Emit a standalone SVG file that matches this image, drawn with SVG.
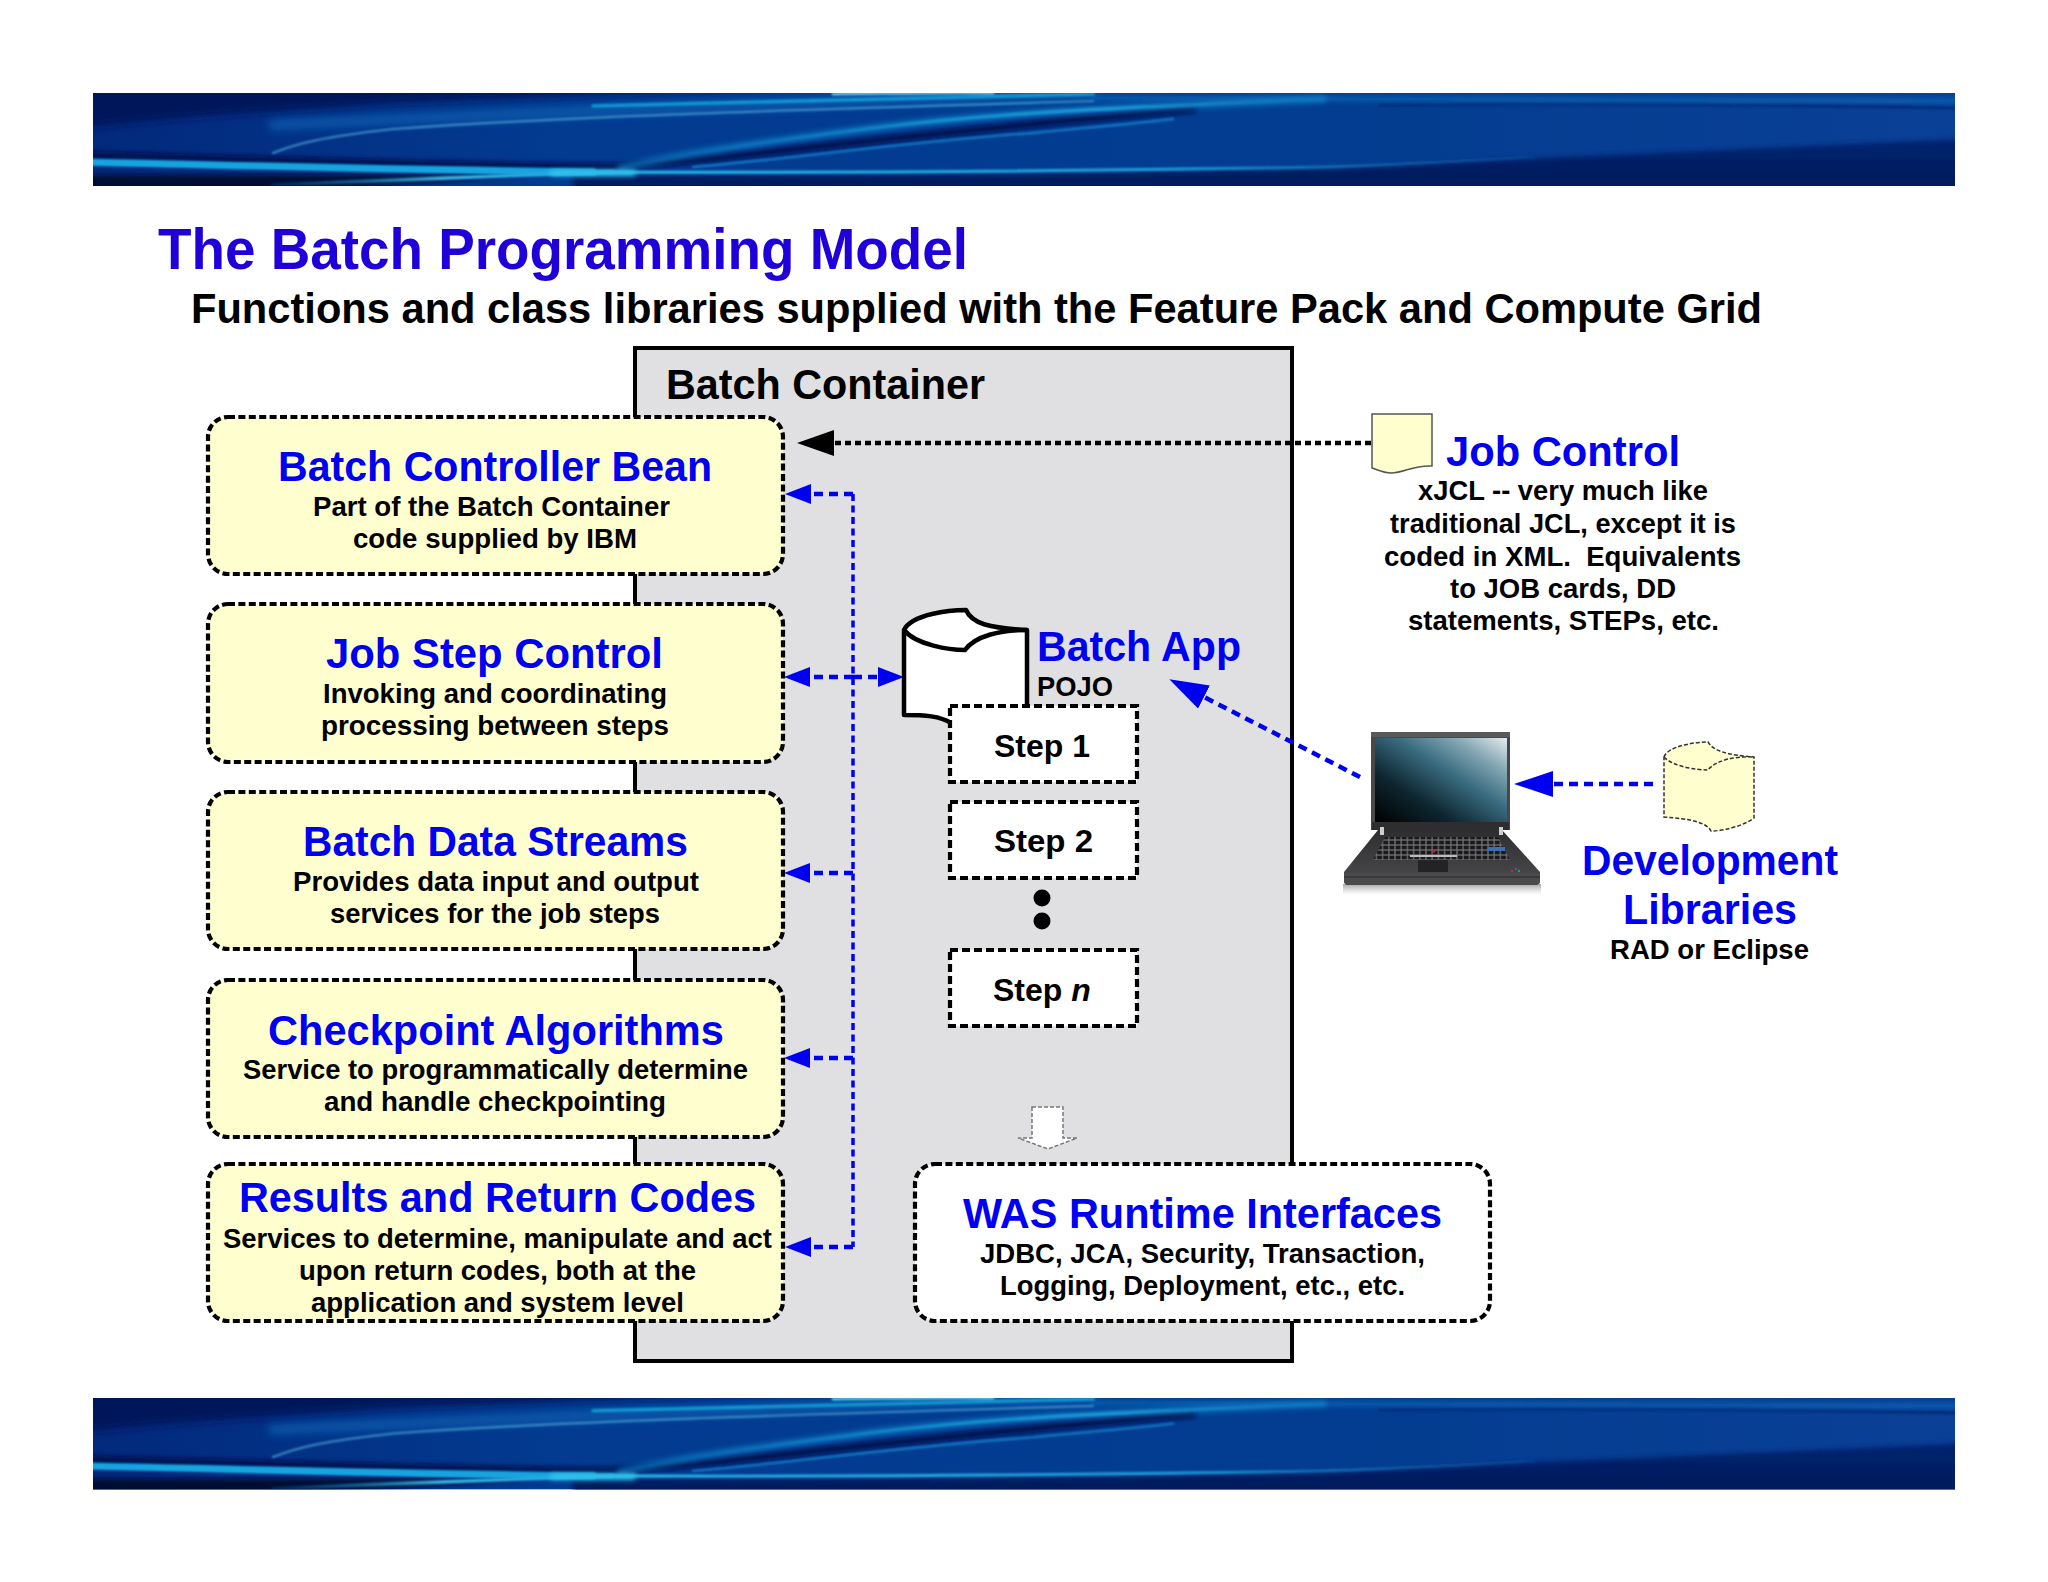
<svg xmlns="http://www.w3.org/2000/svg" width="2048" height="1582" viewBox="0 0 2048 1582">
<style>
text{font-family:"Liberation Sans",Arial,sans-serif;font-weight:700}
.t{fill:#0000f0;font-size:43px}
.s{fill:#000;font-size:28px}
.b{fill:#fefecf;stroke:#000;stroke-width:4.2;stroke-dasharray:7 3.4}
.w{fill:#fff;stroke:#000;stroke-width:4.2;stroke-dasharray:7 3.4}
.st{fill:#fff;stroke:#000;stroke-width:4.2;stroke-dasharray:8 4}
.bl{fill:none;stroke:#0000f0;stroke-width:4.5;stroke-dasharray:9 6}
.bv{fill:none;stroke:#0000f0;stroke-width:3.5;stroke-dasharray:7 4.5}
.sn{font-size:32px;fill:#000}
.st1{fill:none;stroke-linecap:round}
</style>
<defs>
<marker id="ms" markerUnits="userSpaceOnUse" markerWidth="28" markerHeight="22" refX="0" refY="11" orient="auto"><path d="M0 1L26 11L0 21Z" fill="#0000f0"/></marker>
<marker id="ml" markerUnits="userSpaceOnUse" markerWidth="40" markerHeight="30" refX="0" refY="15" orient="auto"><path d="M0 2L39 15L0 28Z" fill="#0000f0"/></marker>
<marker id="mk" markerUnits="userSpaceOnUse" markerWidth="38" markerHeight="26" refX="0" refY="13" orient="auto"><path d="M0 0L37 13L0 26Z" fill="#000"/></marker>
<linearGradient id="bh" x1="0" x2="1" y1="0" y2="0"><stop offset="0" stop-color="#02297c"/><stop offset=".25" stop-color="#023b90"/><stop offset=".7" stop-color="#033d90"/><stop offset="1" stop-color="#0a4096"/></linearGradient>
<linearGradient id="dk" x1="0" x2="0" y1="0" y2="1"><stop offset="0" stop-color="#022470"/><stop offset="1" stop-color="#011858"/></linearGradient>
<linearGradient id="m1" gradientUnits="userSpaceOnUse" x1="0" x2="1440" y1="0" y2="0"><stop offset="0" stop-color="#18b0e4"/><stop offset=".3" stop-color="#14a8e0"/><stop offset=".37" stop-color="#28c0ec"/><stop offset=".75" stop-color="#1ea0dc"/><stop offset="1" stop-color="#1a70b8" stop-opacity=".2"/></linearGradient>
<linearGradient id="m2" gradientUnits="userSpaceOnUse" x1="528" x2="1230" y1="0" y2="0"><stop offset="0" stop-color="#0a60b0" stop-opacity=".2"/><stop offset=".45" stop-color="#18a0d8"/><stop offset=".7" stop-color="#28b4e4"/><stop offset="1" stop-color="#1a80c8" stop-opacity=".4"/></linearGradient>
<linearGradient id="m3" gradientUnits="userSpaceOnUse" x1="180" x2="520" y1="0" y2="0"><stop offset="0" stop-color="#0860b0" stop-opacity=".3"/><stop offset=".5" stop-color="#3cbcec"/><stop offset="1" stop-color="#18a4dc"/></linearGradient>
<linearGradient id="scr" x1="0" x2="1" y1="1" y2="0"><stop offset="0" stop-color="#000"/><stop offset=".3" stop-color="#0e2630"/><stop offset=".58" stop-color="#3a6c80"/><stop offset=".8" stop-color="#86a8b4"/><stop offset="1" stop-color="#e6ecee"/></linearGradient>
<filter id="b1" filterUnits="userSpaceOnUse" x="-30" y="-30" width="1930" height="160"><feGaussianBlur stdDeviation="1"/></filter>
<filter id="b2" filterUnits="userSpaceOnUse" x="-30" y="-30" width="1930" height="160"><feGaussianBlur stdDeviation="2.5"/></filter>
<filter id="b4" filterUnits="userSpaceOnUse" x="-30" y="-30" width="1930" height="160"><feGaussianBlur stdDeviation="5"/></filter>
<clipPath id="bc"><rect width="1862" height="93"/></clipPath>
<g id="banner" clip-path="url(#bc)">
<rect width="1862" height="93" fill="url(#bh)"/>
<path d="M-10 -10H800L300 10L100 24L-10 34Z" fill="#01125a" filter="url(#b4)"/>
<path d="M480 83L927 81L1227 76L1407 67L1870 46V100H480Z" fill="url(#dk)" filter="url(#b2)"/>
<path d="M-10 82H200L440 82L180 100H-10Z" fill="#000a30" filter="url(#b2)"/>
<path class="st1" d="M-10 62C150 66 300 72 520 74C640 66 780 44 1100 16" stroke="#010f4c" stroke-width="7" filter="url(#b2)"/>
<path class="st1" d="M1287 12C1500 10 1700 12 1870 15" stroke="#012c78" stroke-width="3" filter="url(#b1)"/>
<path class="st1" d="M1000 5C1300 6 1600 6 1870 8" stroke="#0a68b8" stroke-width="5" opacity=".8" filter="url(#b2)"/>
<path class="st1" d="M180 32C400 22 700 8 1000 0" stroke="#0a62b4" stroke-width="10" opacity=".8" filter="url(#b4)"/>
<path class="st1" d="M500 13C700 7 900 2 1000 1" stroke="#12a0d8" stroke-width="3.5" opacity=".9" filter="url(#b1)"/>
<path class="st1" d="M740 1C820 0 860 -1 900 0" stroke="#60d0f0" stroke-width="3" filter="url(#b1)"/>
<path class="st1" d="M180 60C205 50 230 44 300 36C480 23 700 17 1000 8" stroke="#3c8cc8" stroke-width="2.2" filter="url(#b1)"/>
<path class="st1" d="M600 74C700 66 800 50 940 40C1000 34 1030 32 1080 26" stroke="#1278c4" stroke-width="2.4" filter="url(#b1)"/>
<path class="st1" d="M528 75C600 58 680 48 780 35C900 20 1000 16 1230 6" stroke="url(#m2)" stroke-width="3.5" filter="url(#b1)"/>
<path class="st1" d="M528 75C600 58 680 48 780 35C900 20 1000 16 1230 6" stroke="#0e80c8" stroke-width="9" opacity=".55" filter="url(#b2)"/>
<path class="st1" d="M-10 69C150 72 300 78 480 79C700 80 1000 78 1230 74C1300 72 1370 68 1440 64" stroke="url(#m1)" stroke-width="3" filter="url(#b1)"/>
<path class="st1" d="M-10 69C100 71 250 76 500 79" stroke="#12a4e0" stroke-width="7" filter="url(#b1)"/>
<path class="st1" d="M180 92C280 88 360 84 520 79" stroke="url(#m3)" stroke-width="3.5" filter="url(#b1)"/>
<path class="st1" d="M460 80H540" stroke="#30c4ee" stroke-width="6" filter="url(#b2)"/>
</g>
<pattern id="keys" width="6.2" height="5" patternUnits="userSpaceOnUse"><rect width="6.2" height="5" fill="#77777a"/><rect x=".6" y=".6" width="5" height="3.8" fill="#1a1a1c"/></pattern>
<linearGradient id="ref" x1="0" x2="0" y1="0" y2="1"><stop offset="0" stop-color="#666" stop-opacity=".6"/><stop offset="1" stop-color="#aaa" stop-opacity="0"/></linearGradient>
<linearGradient id="bsg" x1="0" x2="0" y1="0" y2="1"><stop offset="0" stop-color="#2e2e30"/><stop offset="1" stop-color="#4c4c50"/></linearGradient>
</defs>
<rect width="2048" height="1582" fill="#fff"/>
<use href="#banner" x="93" y="93"/>
<use href="#banner" transform="translate(93 1398) scale(1 .985)"/>
<text x="158" y="269" textLength="810" lengthAdjust="spacingAndGlyphs" style="font-size:58px;fill:#2000d8">The Batch Programming Model</text>
<text x="191" y="323" textLength="1571" lengthAdjust="spacingAndGlyphs" style="font-size:42px;fill:#000">Functions and class libraries supplied with the Feature Pack and Compute Grid</text>
<g id="batch-container">
<rect x="635" y="348" width="657" height="1013" fill="#e0e0e3" stroke="#000" stroke-width="4"/>
<text x="666" y="399" textLength="319" lengthAdjust="spacingAndGlyphs" style="font-size:42px;fill:#000">Batch Container</text>
</g>
<g id="connectors">
<path d="M1371 443H834" fill="none" stroke="#000" stroke-width="4.5" stroke-dasharray="6 4" marker-end="url(#mk)"/>
<path class="bv" d="M853 494V1247"/>
<path class="bl" d="M853 494H811" marker-end="url(#ms)"/>
<path class="bl" d="M853 677H810" marker-end="url(#ms)"/>
<path class="bl" d="M853 677H878" marker-end="url(#ms)"/>
<path class="bl" d="M853 873H810" marker-end="url(#ms)"/>
<path class="bl" d="M853 1058H810" marker-end="url(#ms)"/>
<path class="bl" d="M853 1247H811" marker-end="url(#ms)"/>
<path class="bl" d="M1360 777L1204 697" marker-end="url(#ml)"/>
<path class="bl" d="M1653 784H1553" marker-end="url(#ml)"/>
</g>
<g id="batch-controller-bean">
<rect class="b" x="208" y="417" width="575" height="157" rx="20"/>
<text class="t" x="278" y="481" textLength="434" lengthAdjust="spacingAndGlyphs">Batch Controller Bean</text>
<text class="s" x="313" y="516" textLength="357" lengthAdjust="spacingAndGlyphs">Part of the Batch Container</text>
<text class="s" x="353" y="548" textLength="284" lengthAdjust="spacingAndGlyphs">code supplied by IBM</text>
</g>
<g id="job-step-control">
<rect class="b" x="208" y="604" width="575" height="158" rx="20"/>
<text class="t" x="326" y="668" textLength="337" lengthAdjust="spacingAndGlyphs">Job Step Control</text>
<text class="s" x="323" y="703" textLength="344" lengthAdjust="spacingAndGlyphs">Invoking and coordinating</text>
<text class="s" x="321" y="735" textLength="348" lengthAdjust="spacingAndGlyphs">processing between steps</text>
</g>
<g id="batch-data-streams">
<rect class="b" x="208" y="792" width="575" height="157" rx="20"/>
<text class="t" x="303" y="856" textLength="385" lengthAdjust="spacingAndGlyphs">Batch Data Streams</text>
<text class="s" x="293" y="891" textLength="406" lengthAdjust="spacingAndGlyphs">Provides data input and output</text>
<text class="s" x="330" y="923" textLength="330" lengthAdjust="spacingAndGlyphs">services for the job steps</text>
</g>
<g id="checkpoint-algorithms">
<rect class="b" x="208" y="980" width="575" height="157" rx="20"/>
<text class="t" x="268" y="1045" textLength="456" lengthAdjust="spacingAndGlyphs">Checkpoint Algorithms</text>
<text class="s" x="243" y="1079" textLength="505" lengthAdjust="spacingAndGlyphs">Service to programmatically determine</text>
<text class="s" x="324" y="1111" textLength="342" lengthAdjust="spacingAndGlyphs">and handle checkpointing</text>
</g>
<g id="results-and-return-codes">
<rect class="b" x="208" y="1164" width="575" height="157" rx="20"/>
<text class="t" x="239" y="1212" textLength="517" lengthAdjust="spacingAndGlyphs">Results and Return Codes</text>
<text class="s" x="223" y="1248" textLength="549" lengthAdjust="spacingAndGlyphs">Services to determine, manipulate and act</text>
<text class="s" x="299" y="1280" textLength="397" lengthAdjust="spacingAndGlyphs">upon return codes, both at the</text>
<text class="s" x="311" y="1312" textLength="373" lengthAdjust="spacingAndGlyphs">application and system level</text>
</g>
<g id="was-runtime-interfaces">
<rect class="w" x="915" y="1164" width="575" height="157" rx="20"/>
<text class="t" x="963" y="1228" textLength="479" lengthAdjust="spacingAndGlyphs">WAS Runtime Interfaces</text>
<text class="s" x="980" y="1263" textLength="445" lengthAdjust="spacingAndGlyphs">JDBC, JCA, Security, Transaction,</text>
<text class="s" x="1000" y="1295" textLength="405" lengthAdjust="spacingAndGlyphs">Logging, Deployment, etc., etc.</text>
</g>
<g id="batch-app">
<path d="M904 630C912 614 950 610 966 610C972 624 990 628 1027 630V740H960L951 723C940 716 925 715 904 715Z" fill="#fff" stroke="#000" stroke-width="4.5" stroke-linejoin="round"/>
<path d="M904 630C916 645 950 650 965 650C975 636 1000 630 1027 630" fill="none" stroke="#000" stroke-width="4.5"/>
<text x="1037" y="661" textLength="204" lengthAdjust="spacingAndGlyphs" style="font-size:43px;fill:#0000f0">Batch App</text>
<text x="1037" y="696" textLength="76" lengthAdjust="spacingAndGlyphs" style="font-size:28px;fill:#000">POJO</text>
</g>
<g id="step-1"><rect class="st" x="950" y="706" width="187" height="76"/><text class="sn" x="994" y="757" textLength="96" lengthAdjust="spacingAndGlyphs">Step 1</text></g>
<g id="step-2"><rect class="st" x="950" y="802" width="187" height="76"/><text class="sn" x="994" y="852" textLength="99" lengthAdjust="spacingAndGlyphs">Step 2</text></g>
<g id="step-dots"><circle cx="1042" cy="898" r="8.5"/><circle cx="1042" cy="921" r="8.5"/></g>
<g id="step-n"><rect class="st" x="950" y="950" width="187" height="76"/><text class="sn" x="993" y="1001">Step <tspan font-style="italic">n</tspan></text></g>
<g id="down-arrow"><path d="M1032 1107H1063V1138H1077L1048 1149L1018 1138H1032Z" fill="#fff" stroke="#777" stroke-width="1.5" stroke-dasharray="4 2"/></g>
<g id="job-control">
<path d="M1372 414H1432V466C1412 465 1405 473 1391 473C1384 473 1378 470 1372 468Z" fill="#fefecf" stroke="#555" stroke-width="1.5"/>
<text class="t" x="1446" y="466" textLength="234" lengthAdjust="spacingAndGlyphs">Job Control</text>
<text class="s" x="1418" y="500" textLength="290" lengthAdjust="spacingAndGlyphs">xJCL -- very much like</text>
<text class="s" x="1390" y="533" textLength="346" lengthAdjust="spacingAndGlyphs">traditional JCL, except it is</text>
<text class="s" x="1384" y="566" textLength="357" lengthAdjust="spacingAndGlyphs" style="white-space:pre">coded in XML.  Equivalents</text>
<text class="s" x="1450" y="598" textLength="226" lengthAdjust="spacingAndGlyphs">to JOB cards, DD</text>
<text class="s" x="1408" y="630" textLength="311" lengthAdjust="spacingAndGlyphs">statements, STEPs, etc.</text>
</g>
<g id="laptop">
<rect x="1343" y="884" width="198" height="11" fill="url(#ref)"/>
<rect x="1371" y="732" width="139" height="98" fill="#48484a"/>
<rect x="1371" y="732" width="139" height="5" fill="#5a5a5c"/>
<rect x="1375" y="738" width="132" height="84" fill="url(#scr)"/>
<rect x="1372" y="822" width="137" height="8" fill="#2e2e30"/>
<path d="M1378 830H1502L1540 872V881Q1540 885 1535 885H1349Q1344 885 1344 881V872Z" fill="url(#bsg)"/>
<path d="M1344 873H1540V881Q1540 885 1535 885H1349Q1344 885 1344 881Z" fill="#4a4a4d"/>
<path d="M1344 877H1540" stroke="#28282a" stroke-width="1"/>
<path d="M1385 837H1498L1510 860H1373Z" fill="url(#keys)"/>
<rect x="1418" y="860" width="30" height="12" fill="#232325"/>
<rect x="1410" y="855" width="47" height="2" fill="#bcbcc0"/>
<rect x="1380" y="827" width="4" height="8" fill="#cfcfcf"/><rect x="1499" y="827" width="4" height="8" fill="#cfcfcf"/>
<rect x="1488" y="847" width="17" height="4" fill="#3f6fb0"/>
<circle cx="1434" cy="851" r="1.6" fill="#c02030"/>
<circle cx="1512" cy="871" r="1.2" fill="#c03030"/><circle cx="1516" cy="869" r="1.2" fill="#3060c0"/><circle cx="1519" cy="871" r="1.2" fill="#30a050"/>
</g>
<g id="development-libraries">
<path d="M1664 757C1668 746 1695 742 1708 742C1714 752 1730 755 1754 757V818C1745 825 1725 831 1711 831C1706 822 1690 819 1664 817Z" fill="#fefecf" stroke="#333" stroke-width="1.5" stroke-dasharray="4 2"/>
<path d="M1664 757C1672 766 1695 770 1708 770C1716 760 1735 756 1754 757" fill="none" stroke="#333" stroke-width="1.5" stroke-dasharray="4 2"/>
<text class="t" x="1582" y="875" textLength="256" lengthAdjust="spacingAndGlyphs">Development</text>
<text class="t" x="1623" y="924" textLength="174" lengthAdjust="spacingAndGlyphs">Libraries</text>
<text class="s" x="1610" y="959" textLength="199" lengthAdjust="spacingAndGlyphs">RAD or Eclipse</text>
</g>
</svg>
